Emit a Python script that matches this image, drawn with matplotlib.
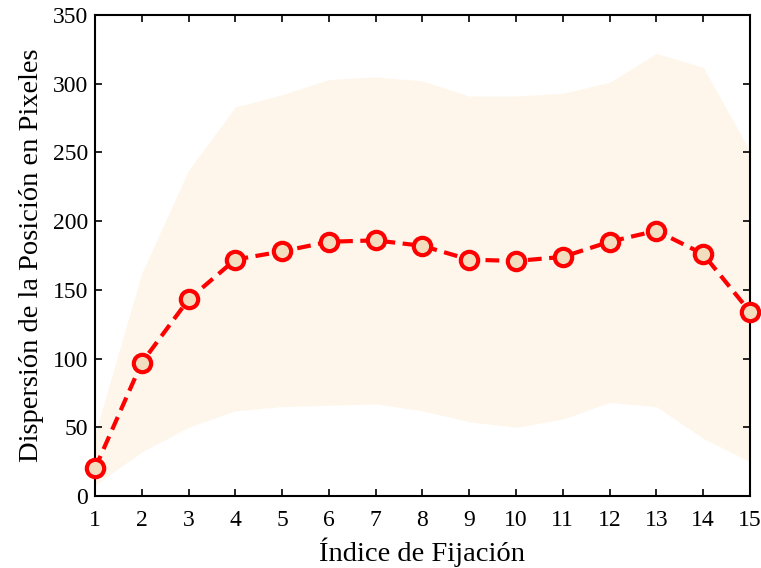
import numpy as np
import matplotlib.pyplot as plt

plt.rcParams['font.family'] = ['Liberation Serif', 'DejaVu Serif']

# datos
fijacion = np.arange(1, 16)
media = [20, 97, 143, 172, 178, 185, 186, 182, 172, 171, 174, 185, 193, 176, 134]
superior = [45, 162, 237, 283, 292, 303, 305, 302, 291, 291, 293, 301, 322, 312, 251]
inferior = [8, 32, 50, 62, 65, 66, 67, 62, 54, 50, 56, 68, 65, 42, 25]

fig = plt.figure(figsize=(7.61, 5.68), dpi=100)
ax = fig.add_axes([0.1248, 0.1268, 0.8607, 0.8468])

ax.fill_between(fijacion, inferior, superior, color='#FEF6EB', linewidth=0)
ax.plot(fijacion, media, '--', color='red', linewidth=3, dashes=(3.3, 1.8),
        marker='o', markersize=12.5, markeredgewidth=3,
        markeredgecolor='red', markerfacecolor='#F2DDBE', clip_on=False, zorder=5)

ax.set_xlim(1, 15)
ax.set_ylim(0, 350)
ax.set_xticks(fijacion)
ax.set_yticks(np.arange(0, 351, 50))
ax.tick_params(direction='in', top=True, right=True, labelsize=17, length=5, width=1.2, pad=5)
ax.tick_params(axis='x', pad=10)
for s in ax.spines.values():
    s.set_linewidth(1.5)

ax.set_xlabel('Índice de Fijación', fontsize=20.5, labelpad=5)
ax.set_ylabel('Dispersión de la Posición en Pixeles', fontsize=20.5, labelpad=6)

fig.savefig('out.png', dpi=100)
